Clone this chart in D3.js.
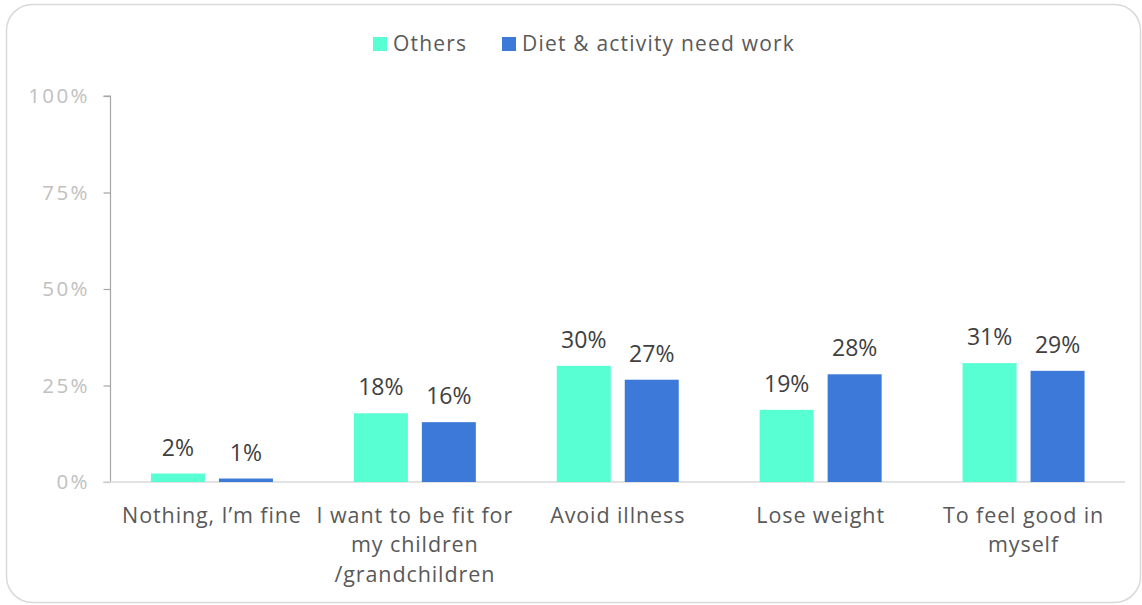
<!DOCTYPE html>
<html>
<head>
<meta charset="utf-8">
<script src="https://cdn.jsdelivr.net/npm/d3@7"></script>
<style>
  html, body { margin: 0; padding: 0; background: #ffffff; }
  svg { display: block; }
  text { font-family: "Open Sans", "Noto Sans", sans-serif; }
</style>
</head>
<body>
<svg id="chart" width="1142" height="605"></svg>
<script>
// Reasons for wanting to improve, by group
const categories = [
  ["Nothing, I\u2019m fine"],
  ["I want to be fit for", "my children", "/grandchildren"],
  ["Avoid illness"],
  ["Lose weight"],
  ["To feel good in", "myself"]
];
const seriesNames = ["Others", "Diet & activity need work"];
const othersValues = [0.022, 0.178, 0.301, 0.187, 0.308];
const dietValues = [0.009, 0.155, 0.265, 0.279, 0.288];
const yTicks = [0, 0.25, 0.5, 0.75, 1];
const colors = ["#57ffd2", "#3d79d8"];

const FONT = "'Open Sans', 'Noto Sans', sans-serif";
const pct = d3.format(".0%");

const svg = d3.select("#chart");

// Card outline
svg.append("rect")
  .attr("x", 6.5).attr("y", 4.5)
  .attr("width", 1134).attr("height", 598)
  .attr("rx", 26).attr("ry", 26)
  .attr("fill", "#ffffff")
  .attr("stroke", "#d9d9d9").attr("stroke-width", 1.5);

const plot = { left: 110.5, right: 1125, top: 96, bottom: 482 };

const x = d3.scaleBand()
  .domain(d3.range(categories.length))
  .range([plot.left, plot.right]);

const barW = 54, barGap = 14;
// two bars centred in each band
const offset = i => x.bandwidth() / 2 + (i === 0 ? -(barGap / 2 + barW) : barGap / 2);

const y = d3.scaleLinear().domain([0, 1]).range([plot.bottom, plot.top]);

// Y axis
const yAxis = d3.axisLeft(y)
  .tickValues(yTicks)
  .tickFormat(pct)
  .tickSize(7)
  .tickPadding(16);
const gy = svg.append("g")
  .attr("transform", `translate(${plot.left},0)`)
  .call(yAxis);
gy.select(".domain").attr("stroke", "#a6a6a6").attr("stroke-width", 1.2)
  .attr("d", `M-7,${plot.top}H0V${plot.bottom}`);
gy.selectAll(".tick line").attr("stroke", "#a6a6a6").attr("stroke-width", 1.2);
gy.selectAll(".tick text")
  .attr("fill", "#c0c0c0")
  .attr("dx", "2.4px")
  .style("font-size", "20.5px")
  .style("letter-spacing", "2.4px")
  .style("font-family", FONT);

// Baseline
svg.append("line")
  .attr("x1", plot.left - 7).attr("x2", plot.right)
  .attr("y1", y(0)).attr("y2", y(0))
  .attr("stroke", "#d9d9d9").attr("stroke-width", 1.5);

// Bars and value labels
const series = [othersValues, dietValues];
series.forEach((vals, si) => {
  const g = svg.append("g");
  g.selectAll("rect")
    .data(vals)
    .join("rect")
    .attr("x", (d, i) => x(i) + offset(si))
    .attr("y", d => y(d))
    .attr("width", barW)
    .attr("height", d => y(0) - y(d))
    .attr("fill", colors[si]);
  g.selectAll("text")
    .data(vals)
    .join("text")
    .attr("x", (d, i) => x(i) + offset(si) + barW / 2)
    .attr("y", d => y(d) - 18)
    .attr("text-anchor", "middle")
    .attr("fill", "#404040")
    .style("font-size", "23px")
    .text(d => pct(d));
});

// Category labels
const xl = svg.append("g");
categories.forEach((lines, i) => {
  const t = xl.append("text")
    .attr("text-anchor", "middle")
    .attr("fill", "#595959")
    .style("font-size", "21.5px")
    .style("letter-spacing", "0.9px");
  lines.forEach((ln, j) => {
    t.append("tspan")
      .attr("x", x(i) + x.bandwidth() / 2)
      .attr("y", 522.5 + j * 29.5)
      .text(ln);
  });
});

// Legend
const legend = svg.append("g").attr("transform", "translate(373,37)");
const legendX = [0, 129];
seriesNames.forEach((name, i) => {
  const g = legend.append("g").attr("transform", `translate(${legendX[i]},0)`);
  g.append("rect").attr("width", 14).attr("height", 14).attr("fill", colors[i]);
  g.append("text")
    .attr("x", 20).attr("y", 14)
    .attr("fill", "#595959")
    .style("font-size", "21px")
    .style("letter-spacing", "1.2px")
    .text(name);
});
</script>
</body>
</html>
